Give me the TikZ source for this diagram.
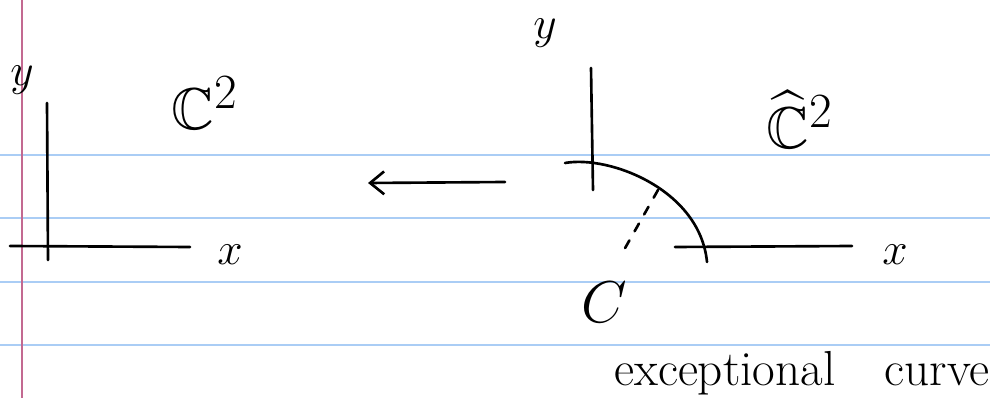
\documentclass[tikz,border=0pt]{standalone}
\usepackage{amssymb}
\usetikzlibrary{arrows.meta, calc, positioning}
\definecolor{ruleblue}{RGB}{170,205,245}
\definecolor{marginpink}{RGB}{195,105,145}
\tikzset{
  pen/.style={line width=1.5pt, line cap=round, line join=round},
  lbl/.style={font=\huge, scale=1.25},
  biglbl/.style={font=\Huge, scale=1.35}
}
\begin{document}
\begin{tikzpicture}[x=0.02cm, y=-0.02cm]

\useasboundingbox (0,0) rectangle (990,398);

% Ruled paper
\foreach \ry in {155, 218, 282, 345} {
    \draw[ruleblue, line width=0.9pt] (0,\ry) -- (990,\ry);
}
\draw[marginpink, line width=0.9pt] (22,0) -- (22,398);

% Left plane
\draw[pen] (47,103) -- (48,260);
\draw[pen] (10,246) -- (190,247);
\node[lbl] (ly) at (22,80) {$y$};
\node[lbl] (lx) at (230,255) {$x$};
\node[biglbl] (plane) at (205,103) {$\mathbb{C}^2$};

% Blow-down map
\coordinate (mapstart) at (505,182);
\coordinate (mapend) at (368,183);
\draw[pen, -{Straight Barb[length=8pt, width=13pt]}] (mapstart) -- (mapend);

% Right plane (blown up)
\draw[pen] (591,68) -- (593,190);
\draw[pen] (675,247) -- (852,246);
\draw[pen] (565,163) .. controls (610,155) and (700,190) .. (707,262);
\node[lbl] (ry) at (545,33) {$y$};
\node[lbl] (rx) at (895,255) {$x$};
\node[biglbl] (blowup) at (800,120) {$\widehat{\mathbb{C}}^2$};

% Exceptional curve
\coordinate (dotstart) at (658,190);
\coordinate (dotend) at (620,257);
\draw[pen, dash pattern=on 5pt off 6pt] (dotstart) -- (dotend);
\node[biglbl] (curvename) at (604,302) {$C$};
\node[font=\fontsize{28}{32}\selectfont, anchor=west] (curvetext) at (608,373) {exceptional\quad curve};

\end{tikzpicture}
\end{document}
